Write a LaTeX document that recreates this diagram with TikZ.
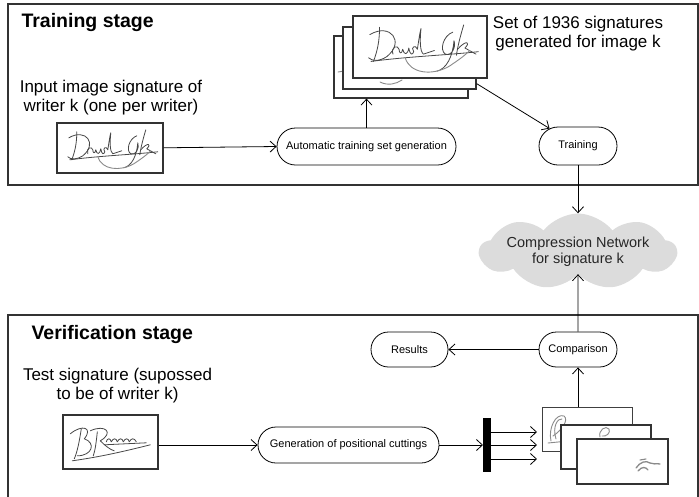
\documentclass[tikz,border=0pt]{standalone}
\usepackage{fontspec}
\setmainfont{Liberation Sans}
\usetikzlibrary{arrows.meta,shapes.misc,shapes.symbols,calc}

\definecolor{framec}{HTML}{333333}
\definecolor{cloudc}{HTML}{DCDCDC}
\definecolor{inkc}{HTML}{474747}
\definecolor{inkl}{HTML}{8A8A8A}

\tikzset{
  stagebox/.style={draw=framec, line width=1.3pt},
  oval/.style={draw=black, line width=0.8pt, rounded rectangle, inner sep=0pt,
    font=\fontsize{11}{13}\selectfont},
  imgbox/.style={draw=framec, line width=1.6pt, fill=white, inner sep=0pt, anchor=north west},
  thinimg/.style={draw=black!75, line width=1.2pt, fill=white, inner sep=0pt, anchor=north west},
  conn/.style={draw=black, line width=0.8pt,
    -{Straight Barb[length=6pt,width=11pt,line width=0.8pt]}},
  ink/.style={draw=inkc, line width=0.8pt, line cap=round, line join=round},
  inklight/.style={draw=inkl, line width=0.9pt, line cap=round, line join=round},
  lbl/.style={align=center, anchor=north, font=\fontsize{17}{19}\selectfont},
  title/.style={anchor=base west, font=\bfseries\fontsize{19.5}{22}\selectfont},
  sigdavid/.pic={
    \draw[ink] (-33,-16) .. controls (-33,-4) and (-35,4) .. (-38,12);
    \draw[ink] (-41,-10) .. controls (-24,-20) and (-12,-4) .. (-27,8)
               .. controls (-33,12) and (-39,12) .. (-42,9);
    \draw[ink] (-22,6) .. controls (-24,0) and (-18,-2) .. (-17,2)
               .. controls (-17,5) and (-15,7) .. (-14,2)
               .. controls (-13,7) and (-10,7) .. (-9,1)
               .. controls (-8,7) and (-6,7) .. (-5,4)
               .. controls (-8,0) and (-3,-2) .. (-2,2)
               .. controls (-1,-4) and (0,-12) .. (1,-15)
               .. controls (0,-6) and (0,4) .. (3,6) -- (12,3);
    \draw[ink] (27,-12) .. controls (19,-9) and (16,3) .. (21,6)
               .. controls (26,8) and (30,0) .. (28,-5)
               .. controls (27,8) and (22,18) .. (14,20);
    \draw[ink] (36,-18) .. controls (33,-8) and (31,0) .. (30,7);
    \draw[ink] (31,2) .. controls (38,-6) and (42,-4) .. (37,1) -- (46,6);
    \draw[ink] (-40,12) .. controls (-10,8) and (20,7) .. (48,4);
    \draw[inklight] (-12,9) .. controls (-8,22) and (10,24) .. (24,16)
               .. controls (30,12) and (36,8) .. (41,3);
  },
  sigbr/.pic={
    \draw[ink] (-29,-13) .. controls (-31,0) and (-33,10) .. (-36,17);
    \draw[ink] (-40,-8) .. controls (-28,-18) and (-17,-14) .. (-26,-3)
               .. controls (-14,1) and (-18,14) .. (-33,14);
    \draw[ink] (-13,-10) .. controls (-14,0) and (-15,8) .. (-17,14);
    \draw[ink] (-20,-11) .. controls (-5,-18) and (4,-9) .. (-10,-1)
               .. controls (-5,4) and (0,8) .. (4,9);
    \draw[ink] (-4,0) .. controls (-3,-4) and (0,-4) .. (1,0)
               .. controls (3,-4) and (6,-4) .. (7,0)
               .. controls (9,-4) and (12,-4) .. (13,0)
               .. controls (15,-4) and (18,-4) .. (19,0)
               .. controls (21,-4) and (24,-4) .. (26,0);
    \draw[ink] (-6,3) -- (36,1);
    \draw[ink] (-38,19) .. controls (-10,15) and (12,10) .. (40,3);
  }
}

\begin{document}
\begin{tikzpicture}[x=1pt,y=-1pt]
\useasboundingbox (0,0) rectangle (699,496);
\clip (0,0) rectangle (699,496);

% stage frames
\draw[stagebox] (8,4) rectangle (698,185);
\draw[stagebox] (8,315) rectangle (698,499);

\node[title] (ttrain) at (18,27) {Training stage};
\node[title] (tverif) at (28,339) {Verification stage};

\node[lbl] (lin) at (111,77) {Input image signature of\\writer k (one per writer)};
\node[lbl] (lset) at (578,13) {Set of 1936 signatures\\generated for image k};
\node[lbl] (ltest) at (117.5,364.6) {Test signature (supossed\\to be of writer k)};

% training input image
\node[imgbox, minimum width=106pt, minimum height=50pt] (img) at (56,122) {};
\path (img.center) pic {sigdavid};

% stack of generated signatures
\node[imgbox, minimum width=134pt, minimum height=62pt] (back) at (333,35) {};
\draw[inklight] (338,72) -- (344,71);
\node[imgbox, minimum width=133pt, minimum height=62pt] (mid) at (342,26) {};
\draw[inklight] (380,82) .. controls (388,86) and (396,84) .. (402,80);
\node[imgbox, minimum width=134pt, minimum height=62pt] (front) at (352,15) {};
\path (front.center) pic[scale=1.22] {sigdavid};

% ovals
\node[oval, minimum width=179pt, minimum height=37pt] (auto) at (366.5,146.5) {Automatic training set generation};
\node[oval, minimum width=78pt, minimum height=38pt] (tr) at (578,146) {Training};
\node[oval, minimum width=78pt, minimum height=35pt] (cmp) at (578,349.5) {Comparison};
\node[oval, minimum width=77pt, minimum height=35pt] (res) at (409.5,349.5) {Results};
\node[oval, minimum width=181pt, minimum height=36pt] (gen) at (348.5,445) {Generation of positional cuttings};

% cloud
\node[cloud, cloud puffs=9, cloud puff arc=105, cloud ignores aspect, fill=cloudc,
      minimum width=178pt, minimum height=76pt, inner sep=0pt, align=center,
      font=\fontsize{14.5}{16.5}\selectfont, text=black!85] (net) at (578,251.5)
      {Compression Network\\for signature k};

% test image
\node[imgbox, minimum width=95pt, minimum height=54pt] (timg) at (62,414) {};
\path (timg.center) pic {sigbr};

% fork bar
\node[fill=black, minimum width=8pt, minimum height=54pt, inner sep=0pt, anchor=north west] (bar) at (483,418) {};
\coordinate (f1) at (537,432);
\coordinate (f2) at (537,445);
\coordinate (f3) at (537,459);

% cuttings
\node[thinimg, minimum width=90pt, minimum height=44pt] (c1) at (542,407) {};
\draw[inklight] (551,441) .. controls (548,428) and (556,413) .. (564,416)
      .. controls (569,420) and (562,430) .. (553,436);
\draw[inklight] (556,439) .. controls (552,426) and (558,418) .. (562,419);
\draw[inklight] (548,443) -- (568,441);
\node[imgbox, minimum width=90pt, minimum height=44pt] (c2) at (560,424) {};
\draw[inklight] (600,437) .. controls (598,430) and (606,425) .. (609,429)
      .. controls (611,433) and (606,437) .. (602,436);
\node[imgbox, minimum width=91pt, minimum height=45pt] (c3) at (576,438) {};
\draw[inklight, line width=1.3pt] (636,468) .. controls (640,462) and (646,460) .. (650,463)
      .. controls (653,465) and (656,463) .. (660,464);
\draw[inklight, line width=1.3pt] (638,471) .. controls (642,466) and (646,467) .. (648,470);
\draw[inklight, line width=1.1pt] (640,460) -- (646,459);

% connectors
\draw[conn] (img.east) -- (auto.west);
\draw[conn] (auto.north) -- (auto.north |- back.south);
\draw[conn] ([yshift=6pt]mid.south east) -- (tr);
\draw[conn] (tr.south) -- (net.north);
\draw[conn] (cmp.north) -- (net.south);
\draw[conn] (cmp.west) -- (res.east);
\draw[conn] (cmp.south |- c1.north) -- (cmp.south);
\draw[conn] (timg.east |- gen.west) -- (gen.west);
\draw[conn] (gen.east) -- (bar.west |- gen.east);
\draw[conn] (bar.east |- f1) -- (f1);
\draw[conn] (bar.east |- f2) -- (f2);
\draw[conn] (bar.east |- f3) -- (f3);
\end{tikzpicture}
\end{document}
